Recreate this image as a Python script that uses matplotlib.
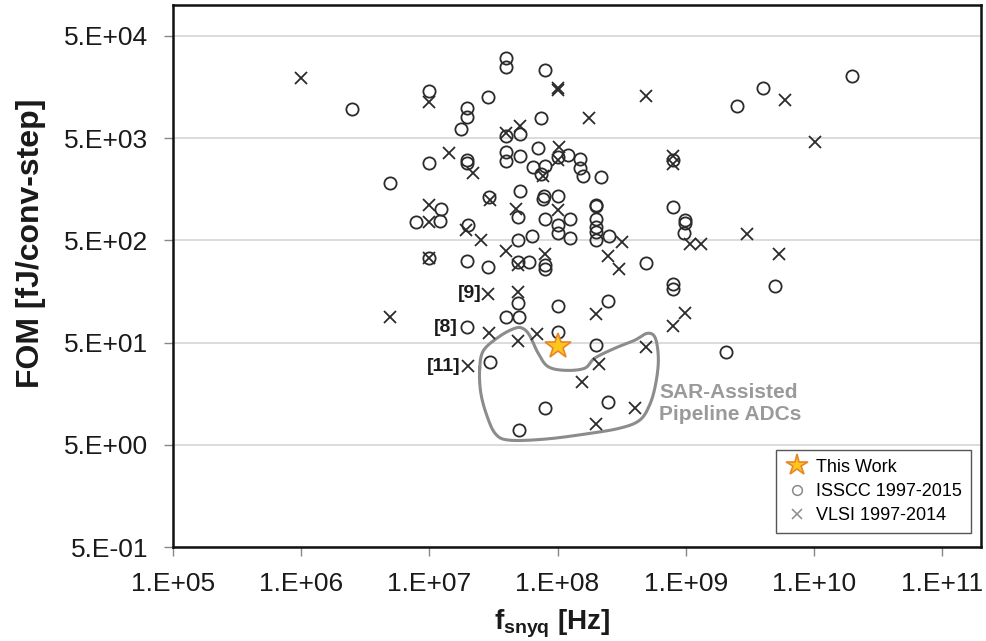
import matplotlib
matplotlib.use('Agg')
import matplotlib.pyplot as plt
from matplotlib.lines import Line2D
import numpy as np

plt.rcParams['font.family'] = ['Liberation Sans', 'DejaVu Sans']
plt.rcParams['mathtext.fontset'] = 'custom'
plt.rcParams['mathtext.rm'] = 'Liberation Sans'
plt.rcParams['mathtext.bf'] = 'Liberation Sans:bold'

# ---------------- data ----------------
isscc_freq = [2.48e6, 1e7, 1.97e7, 1.97e7, 1.78e7, 2.87e7, 1e7, 1.97e7, 1.97e7, 4.98e6,
              2.9e7, 3.99e7, 3.99e7, 7.93e7, 7.46e7, 3.94e7, 5.06e7, 3.99e7, 3.99e7, 5.06e7,
              7.03e7, 1.0e8, 1.2e8, 1.51e8, 1.51e8, 1.57e8, 2.19e8, 6.43e7, 8.0e7, 7.47e7,
              7.9e8, 5.06e7, 2.49e9, 3.97e9, 1.97e10, 1.24e7, 7.94e6, 1.21e7, 2.0e7, 1e7,
              1.97e7, 2.87e7, 1.97e7, 4.91e7, 7.7e7, 7.9e7, 1e8, 7.93e7, 1.24e8, 1e8,
              1e8, 1.24e8, 2.0e8, 2.0e8, 2.0e8, 2.0e8, 2.0e8, 2.0e8, 2.51e8, 4.91e8,
              7.9e8, 9.9e8, 9.9e8, 9.75e8, 4.91e7, 6.35e7, 7.93e7, 7.93e7, 4.91e7, 5.98e7,
              4.9e7, 1e8, 3.99e7, 5.0e7, 1e8, 2.47e8, 2.0e8, 7.9e8, 7.9e8, 2.06e9,
              2.96e7, 7.93e7, 2.47e8, 5.0e7, 4.99e9]
isscc_fom = [9.6e3, 1.45e4, 9.8e3, 8.1e3, 6.2e3, 1.25e4, 2.84e3, 3.06e3, 2.84e3, 1.81e3,
             1.32e3, 3.03e4, 2.49e4, 2.31e4, 7.8e3, 5.28e3, 5.5e3, 3.63e3, 3.01e3, 3.37e3,
             4.0e3, 3.25e3, 3.45e3, 3.13e3, 2.56e3, 2.15e3, 2.1e3, 2.59e3, 2.69e3, 2.23e3,
             3.06e3, 1.51e3, 1.04e4, 1.55e4, 2.04e4, 1.02e3, 753, 782, 700, 338,
             313, 274, 71, 855, 1.27e3, 1.37e3, 1.37e3, 813, 813, 715,
             589, 531, 1.12e3, 1.08e3, 813, 673, 601, 499, 558, 300,
             1.07e3, 795, 736, 589, 507, 546, 285, 264, 306, 306,
             122, 113, 89, 89, 63.6, 128, 47.1, 186, 169, 40.6,
             32.4, 11.6, 13.2, 6.98, 179]

vlsi_freq = [1e6, 1e7, 1.43e7, 2.19e7, 1e8, 1.0e8, 4.91e8, 1.77e8, 3.94e7, 5.06e7,
             1.02e8, 1.0e8, 7.7e7, 7.9e8, 7.9e8, 5.96e9, 1.02e10, 1e7, 1e7, 1.95e7,
             2.55e7, 1e7, 2.87e7, 4.92e6, 2.0e7, 2.96e7, 4.78e7, 1e8, 3.19e8, 2.47e8,
             2.99e8, 1.07e9, 1.31e9, 3.94e7, 7.93e7, 4.91e7, 4.91e7, 2.92e7, 4.91e7, 6.95e7,
             1.98e8, 2.1e8, 4.91e8, 9.9e8, 7.9e8, 2.98e9, 5.36e9, 1.56e8, 4.05e8, 1.98e8]
vlsi_fom = [1.93e4, 1.13e4, 3.6e3, 2.26e3, 1.53e4, 1.49e4, 1.30e4, 7.8e3, 5.57e3, 6.6e3,
            4.06e3, 3.06e3, 2.15e3, 3.37e3, 2.8e3, 1.19e4, 4.55e3, 1.12e3, 753, 635,
            499, 338, 151, 89, 29.4, 1.23e3, 1.02e3, 980, 481, 348,
            264, 463, 463, 392, 365, 285, 156, 62, 51.9, 61.3,
            94.6, 31.3, 45.4, 97.5, 72.3, 571, 365, 20.7, 11.4, 7.99]

this_work_freq = [1.0e8]
this_work_fom = [46.4]

# outline around the SAR-assisted pipeline ADC group (data coords, log10)
outline_logf = [7.393, 7.424, 7.548, 7.665, 7.728, 7.782, 7.845, 7.923, 8.055, 8.211,
                8.289, 8.445, 8.600, 8.701, 8.763, 8.786, 8.763, 8.717, 8.640, 8.484,
                8.211, 7.899, 7.627, 7.518, 7.448, 7.401]
outline_logfom = [1.449, 1.625, 1.761, 1.839, 1.839, 1.771, 1.605, 1.468, 1.429, 1.449,
                  1.547, 1.644, 1.722, 1.791, 1.742, 1.527, 1.283, 1.088, 0.941, 0.863,
                  0.805, 0.756, 0.746, 0.805, 0.990, 1.215]

x_ticks = [1e5, 1e6, 1e7, 1e8, 1e9, 1e10, 1e11]
x_labels = ['1.E+05', '1.E+06', '1.E+07', '1.E+08', '1.E+09', '1.E+10', '1.E+11']
y_ticks = [0.5, 5, 50, 500, 5000, 50000]
y_labels = ['5.E-01', '5.E+00', '5.E+01', '5.E+02', '5.E+03', '5.E+04']

# ---------------- figure ----------------
fig = plt.figure(figsize=(9.87, 6.41), dpi=100)
ax = fig.add_axes([0.17497, 0.14618, 0.81895, 0.84602])
ax.set_xscale('log')
ax.set_yscale('log')
ax.set_xlim(1e5, 2e11)
ax.set_ylim(0.5, 1e5)

ax.set_xticks(x_ticks)
ax.set_xticklabels(x_labels)
ax.set_yticks(y_ticks)
ax.set_yticklabels(y_labels)
ax.xaxis.set_minor_locator(matplotlib.ticker.NullLocator())
ax.yaxis.set_minor_locator(matplotlib.ticker.NullLocator())
ax.tick_params(axis='both', which='major', direction='out', length=6.5, width=1,
               color='#888888', labelsize=19, labelcolor='#1a1a1a', pad=11)

ax.yaxis.grid(True, color='#d9d9d9', linewidth=1.3)
ax.set_axisbelow(True)
for s in ax.spines.values():
    s.set_linewidth(1.8)
    s.set_color('#111111')

# outline (smooth closed Catmull-Rom curve in log space)
P = np.column_stack([outline_logf, outline_logfom])
n = len(P)
curve = []
for i in range(n):
    p0, p1, p2, p3 = P[(i - 1) % n], P[i], P[(i + 1) % n], P[(i + 2) % n]
    for t in np.linspace(0, 1, 12, endpoint=False):
        t2, t3 = t * t, t * t * t
        pt = 0.5 * ((2 * p1) + (-p0 + p2) * t + (2 * p0 - 5 * p1 + 4 * p2 - p3) * t2
                    + (-p0 + 3 * p1 - 3 * p2 + p3) * t3)
        curve.append(pt)
curve.append(curve[0])
curve = np.array(curve)
ax.plot(10 ** curve[:, 0], 10 ** curve[:, 1], color='#8c8c8c', lw=2.2, zorder=2)

ax.plot(isscc_freq, isscc_fom, linestyle='none', marker='o', ms=8.8, mfc='none',
        mec='#2b2b2b', mew=1.3, zorder=3)
ax.plot(vlsi_freq, vlsi_fom, linestyle='none', marker='x', ms=8.5,
        mec='#2b2b2b', mew=1.3, zorder=3)
ax.plot(this_work_freq, this_work_fom, linestyle='none', marker='*', ms=19,
        mfc='#ffc61a', mec='#e8862a', mew=1.2, zorder=4)

# reference labels
ax.annotate('[9]', xy=(vlsi_freq[22], vlsi_fom[22]), xytext=(-4.5, 0), textcoords='offset points',
            ha='right', va='center', fontsize=14, fontweight='bold', color='#1a1a1a')
ax.annotate('[8]', xy=(isscc_freq[42], isscc_fom[42]), xytext=(-6.5, 0), textcoords='offset points',
            ha='right', va='center', fontsize=14, fontweight='bold', color='#1a1a1a')
ax.annotate('[11]', xy=(vlsi_freq[24], vlsi_fom[24]), xytext=(-5, 0), textcoords='offset points',
            ha='right', va='center', fontsize=14, fontweight='bold', color='#1a1a1a')

ax.text(6.22e8, 12.6, 'SAR-Assisted\nPipeline ADCs', ha='left', va='center',
        fontsize=15, fontweight='bold', color='#9a9a9a', linespacing=1.2)

# legend
handles = [
    Line2D([], [], linestyle='none', marker='*', ms=16, mfc='#ffc61a', mec='#e8862a', mew=1.2),
    Line2D([], [], linestyle='none', marker='o', ms=7, mfc='none', mec='#8a8a8a', mew=1.1),
    Line2D([], [], linestyle='none', marker='x', ms=7, mec='#8a8a8a', mew=1.1),
]
leg = ax.legend(handles, ['This Work', 'ISSCC 1997-2015', 'VLSI 1997-2014'],
                loc='lower right', bbox_to_anchor=(0.988, 0.026), fontsize=13,
                frameon=True, fancybox=False, edgecolor='#555555', framealpha=1,
                handletextpad=0.35, borderpad=0.5, labelspacing=0.4, handlelength=1.4,
                borderaxespad=0)
leg.get_frame().set_linewidth(1.0)

ax.set_ylabel('FOM [fJ/conv-step]', fontsize=23, fontweight='bold', color='#1a1a1a')
ax.yaxis.set_label_coords(-0.157, 0.56)
ax.set_xlabel(r'$\mathbf{f}_{\mathbf{snyq}}$ [Hz]', fontsize=20, fontweight='bold', color='#1a1a1a')
ax.xaxis.set_label_coords(0.47, -0.11)

fig.savefig('out.png', dpi=100)
